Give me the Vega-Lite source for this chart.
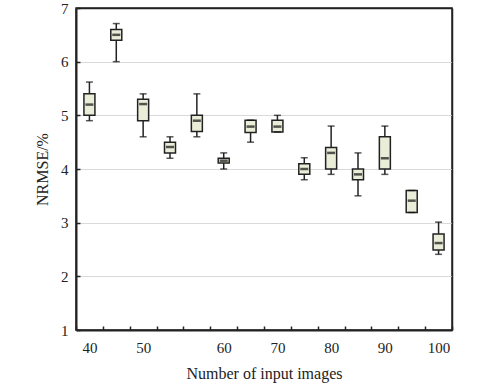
{
  "$schema": "https://vega.github.io/schema/vega-lite/v6.json",
  "width": 376,
  "height": 322,
  "autosize": {"type": "none"},
  "padding": {"left": 76, "top": 8, "right": 28, "bottom": 59},
  "background": "white",
  "view": {"stroke": "#222", "strokeWidth": 1.5},
  "config": {
    "font": "Liberation Serif",
    "axis": {"labelFont": "Liberation Serif", "titleFont": "Liberation Serif", "labelColor": "#222", "titleColor": "#222", "titleFontWeight": "normal"}
  },
  "data": {
    "values": [
      {"n": "40", "min": 4.9, "q1": 5.0, "med": 5.2, "q3": 5.4, "max": 5.62},
      {"n": "45", "min": 6.0, "q1": 6.4, "med": 6.5, "q3": 6.6, "max": 6.71},
      {"n": "50", "min": 4.6, "q1": 4.9, "med": 5.21, "q3": 5.3, "max": 5.4},
      {"n": "52", "min": 4.2, "q1": 4.3, "med": 4.41, "q3": 4.5, "max": 4.6},
      {"n": "55", "min": 4.6, "q1": 4.7, "med": 4.9, "q3": 5.0, "max": 5.4},
      {"n": "60", "min": 4.0, "q1": 4.11, "med": 4.155, "q3": 4.2, "max": 4.3},
      {"n": "65", "min": 4.5, "q1": 4.68, "med": 4.79, "q3": 4.91, "max": 4.91},
      {"n": "70", "min": 4.69, "q1": 4.69, "med": 4.79, "q3": 4.91, "max": 5.0},
      {"n": "75", "min": 3.8, "q1": 3.9, "med": 4.0, "q3": 4.1, "max": 4.21},
      {"n": "80", "min": 3.9, "q1": 4.0, "med": 4.3, "q3": 4.4, "max": 4.8},
      {"n": "85", "min": 3.5, "q1": 3.8, "med": 3.9, "q3": 4.0, "max": 4.3},
      {"n": "90", "min": 3.9, "q1": 4.0, "med": 4.2, "q3": 4.6, "max": 4.8},
      {"n": "95", "min": 3.19, "q1": 3.19, "med": 3.41, "q3": 3.6, "max": 3.6},
      {"n": "100", "min": 2.41, "q1": 2.49, "med": 2.62, "q3": 2.79, "max": 3.01}
    ]
  },
  "resolve": {"axis": {"x": "independent", "y": "independent"}},
  "layer": [
    {
      "mark": {"type": "rule", "color": "#222", "strokeWidth": 1.5},
      "encoding": {
        "x": {
          "field": "n", "type": "ordinal", "sort": null,
          "scale": {"paddingInner": 0, "paddingOuter": 0},
          "axis": {
            "title": "Number of input images", "titleFontSize": 16, "titlePadding": 10,
            "labelAngle": 0, "labelFontSize": 15, "labelPadding": 14,
            "labelExpr": "indexof(['40','50','60','70','80','90','100'], datum.label) >= 0 ? datum.label : ''",
            "tickBand": "extent", "tickSize": -4, "tickColor": "#222", "tickWidth": 1.5,
            "domainColor": "#222", "domainWidth": 2, "grid": false
          }
        },
        "y": {
          "field": "min", "type": "quantitative",
          "scale": {"domain": [1, 7], "nice": false, "zero": false},
          "axis": {
            "title": "NRMSE/%", "titleFontSize": 16, "titlePadding": 10,
            "labelFontSize": 15, "labelPadding": 12, "values": [1, 2, 3, 4, 5, 6, 7],
            "format": "d", "labelOverlap": false,
            "tickSize": -4, "tickColor": "#222", "tickWidth": 1.5,
            "domainColor": "#222", "domainWidth": 2,
            "grid": true, "gridColor": "#d9d9d9", "gridWidth": 1.2
          }
        },
        "y2": {"field": "max"}
      }
    },
    {
      "mark": {"type": "bar", "size": 11, "fill": "#eaeed8", "stroke": "#222", "strokeWidth": 1.5},
      "encoding": {
        "x": {"field": "n", "type": "ordinal", "sort": null, "axis": {"orient": "top", "labels": false, "ticks": false, "title": null, "domainColor": "#222", "domainWidth": 1.5, "grid": false}},
        "y": {"field": "q1", "type": "quantitative", "axis": {"orient": "right", "labels": false, "ticks": false, "title": null, "domainColor": "#222", "domainWidth": 1.5, "grid": false}},
        "y2": {"field": "q3"}
      }
    },
    {
      "mark": {"type": "tick", "size": 8, "thickness": 2.5, "color": "#111"},
      "encoding": {
        "x": {"field": "n", "type": "ordinal", "sort": null, "axis": null},
        "y": {"field": "med", "type": "quantitative", "axis": null}
      }
    },
    {
      "mark": {"type": "tick", "size": 7, "thickness": 1.5, "color": "#111"},
      "encoding": {
        "x": {"field": "n", "type": "ordinal", "sort": null, "axis": null},
        "y": {"field": "min", "type": "quantitative", "axis": null}
      }
    },
    {
      "mark": {"type": "tick", "size": 7, "thickness": 1.5, "color": "#111"},
      "encoding": {
        "x": {"field": "n", "type": "ordinal", "sort": null, "axis": null},
        "y": {"field": "max", "type": "quantitative", "axis": null}
      }
    }
  ]
}
